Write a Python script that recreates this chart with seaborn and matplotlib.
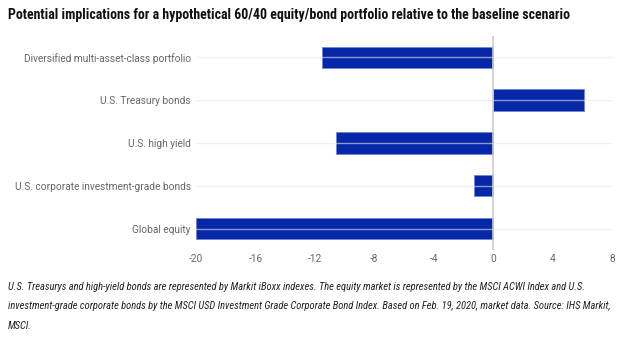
import matplotlib
matplotlib.use("Agg")
import matplotlib.pyplot as plt
import seaborn as sns
import pandas as pd
from matplotlib import font_manager

categories = ["Diversified multi-asset-class portfolio", "U.S. Treasury bonds",
              "U.S. high yield", "U.S. corporate investment-grade bonds", "Global equity"]
values = [-11.5, 6.1, -10.6, -1.3, -20.0]
xticks = [-20, -16, -12, -8, -4, 0, 4, 8]

title = "Potential implications for a hypothetical 60/40 equity/bond portfolio relative to the baseline scenario"
note = ("U.S. Treasurys and high-yield bonds are represented by Markit iBoxx indexes. The equity market is represented by the MSCI ACWI Index and U.S.\n"
        "investment-grade corporate bonds by the MSCI USD Investment Grade Corporate Bond Index. Based on Feb. 19, 2020, market data. Source: IHS Markit,\n"
        "MSCI.")

names = {f.name for f in font_manager.fontManager.ttflist}
narrow = "Roboto"
for cand in ["Roboto Condensed", "Liberation Sans Narrow", "Open Sans Condensed"]:
    if cand in names:
        narrow = cand
        break

sns.set_theme(style="white")
plt.rcParams["font.family"] = ["Roboto", "DejaVu Sans"]

df = pd.DataFrame({"category": categories, "value": values})

fig = plt.figure(figsize=(6.29, 3.42), dpi=100)
ax = fig.add_axes([0.312, 0.269, 0.661, 0.626])
sns.barplot(data=df, x="value", y="category", orient="h", color="#0527A8",
            saturation=1, width=0.5, edgecolor="#6f86d6", linewidth=0.6, ax=ax)
ax.set_xlim(-20, 8)
ax.set_ylim(4.5, -0.5)
ax.set_xticks(xticks)
ax.set_xticklabels([str(t) for t in xticks])
ax.set_xlabel("")
ax.set_ylabel("")
for s in ax.spines.values():
    s.set_visible(False)
ax.tick_params(axis="both", length=0, colors="#666666", labelsize=7.3)
ax.tick_params(axis="x", pad=3)
ax.tick_params(axis="y", pad=4)
for i in range(len(categories)):
    ax.axhline(i, color="#e6e6e6", lw=1, alpha=0.6, zorder=5)
ax.axvline(0, color="#cccccc", lw=1.2, zorder=6)

tsize = 8.7 if narrow == "Roboto" else 10
nsize = 6.5 if narrow == "Roboto" else 7.55
fig.text(0.013, 0.955, title, fontsize=tsize, fontweight="bold", family=[narrow, "DejaVu Sans"],
         color="#111111", va="center")
fig.text(0.013, 0.175, note, fontsize=nsize, style="italic", family=[narrow, "DejaVu Sans"],
         color="#222222", va="top", linespacing=2.15)

fig.savefig("out.png", dpi=100)
